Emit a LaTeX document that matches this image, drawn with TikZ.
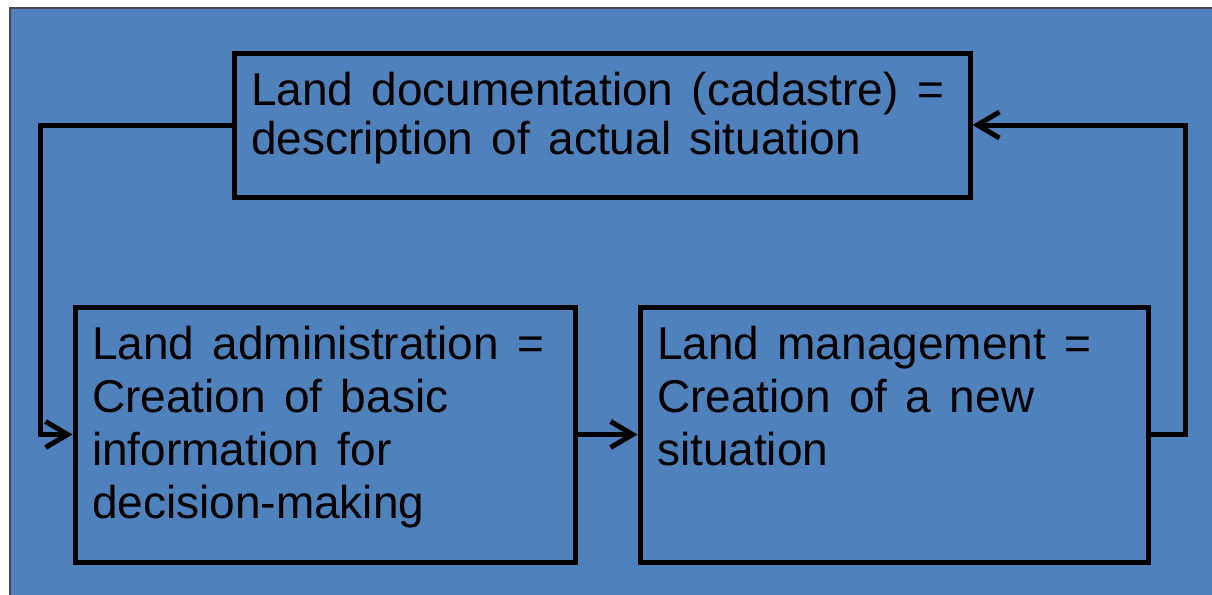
\documentclass[tikz,border=0pt]{standalone}
\usepackage{fontspec}
\setmainfont{Liberation Sans}
\usetikzlibrary{arrows.meta}

\definecolor{slideblue}{RGB}{79,129,189}
\definecolor{slideedge}{RGB}{68,76,88}

% text block: width, height, line spacing, lines
\newcommand{\boxlines}[4]{\parbox[c][#2][t]{#1}{\raggedright\fontsize{23}{#3}\selectfont\spaceskip=0.4em #4}}

\begin{document}
\begin{tikzpicture}[x=0.5pt, y=-0.5pt, >={Straight Barb[length=11pt,width=13pt]},
    box/.style={draw=black, line width=2.5pt, inner xsep=8.5pt, inner ysep=9.5pt},
    flow/.style={->, line width=2.5pt, line join=miter}]
    \useasboundingbox (0,0) rectangle (1212,595);

    % Background
    \fill[slideblue] (10,8) rectangle (1212,595);
    \draw[slideedge, line width=1pt] (10,595) |- (1212,8);

    % Boxes {doc, admin, mgmt}
    \node [box] (doc)   at (602,125)   {\boxlines{351pt}{53pt}{24.5pt}{Land documentation (cadastre) =\\ description of actual situation}};
    \node [box] (admin) at (325,434.5) {\boxlines{233pt}{108.5pt}{26.6pt}{Land administration =\\ Creation of basic\\ information for\\ decision-making}};
    \node [box] (mgmt)  at (894,434.5) {\boxlines{237pt}{108.5pt}{26.6pt}{Land management =\\ Creation of a new\\ situation}};

    % Paths
    \coordinate (lturn) at (40,434.5);
    \coordinate (rturn) at (1185,434.5);
    \draw [flow] (doc.west) -| (lturn) -- (admin.west);
    \draw [flow] (admin.east) -- (mgmt.west);
    \draw [flow] (mgmt.east) -- (rturn) |- (doc.east);
\end{tikzpicture}
\end{document}
